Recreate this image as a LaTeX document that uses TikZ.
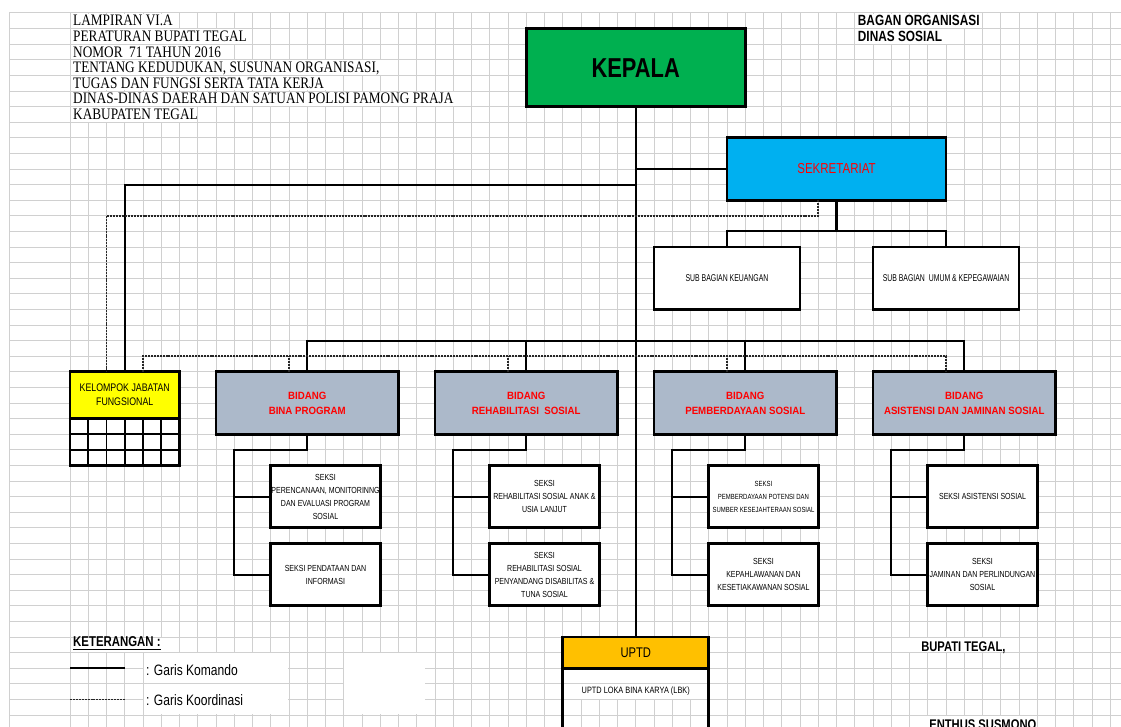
\documentclass[tikz,border=0pt]{standalone}
\usepackage{fontspec}
\setmainfont{Liberation Serif}[FakeStretch=0.83]
\newfontfamily\fa{Liberation Sans}[FakeStretch=0.8]
\newfontfamily\fb{Liberation Sans}[FakeStretch=0.7]
\newfontfamily\fc{Liberation Sans}[FakeStretch=0.92]
\usetikzlibrary{calc}
\definecolor{gridgray}{RGB}{208,208,208}
\definecolor{kepgreen}{RGB}{0,176,80}
\definecolor{sekblue}{RGB}{0,176,240}
\definecolor{bidgray}{RGB}{172,185,202}
\definecolor{kelyellow}{RGB}{255,255,0}
\definecolor{uptdorange}{RGB}{255,192,0}
\definecolor{txtred}{RGB}{255,0,0}
\newcommand\bx[7]{%
  \node[#6, anchor=north west, inner sep=0pt, outer sep=0pt,
    minimum width={(#4-#2)*13.6875pt}, minimum height={(#5-#3)*11.7pt}] (#1) at (#2,#3) {#7};}
\newcommand\wf[4]{\fill[white] (#1+0.04,#2+0.04) rectangle (#3-0.04,#4-0.04);}
\begin{document}
\begin{tikzpicture}[x=13.6875pt,y=-11.7pt,
  gridln/.style={draw=gridgray,line width=0.75pt},
  boxst/.style={draw=black,line width=2.2pt},
  cmd/.style={draw=black,line width=1.6pt},
  crd/.style={draw=black!85,line width=1.3pt,dash pattern=on 1.5pt off 0.7pt},
  hdr/.style={font=\fontsize{12}{14}\selectfont, inner sep=0pt, anchor=base west},
  ttl/.style={font=\fa\bfseries\fontsize{11.1}{13}\selectfont, inner sep=0pt, anchor=base west},
  seksi/.style={boxst, fill=white, align=center, font=\fa\fontsize{6.6}{9.8}\selectfont},
  subbag/.style={boxst, fill=white, align=center, font=\fb\fontsize{7.4}{9}\selectfont},
  bidang/.style={boxst, fill=bidgray, text=txtred, align=center, font=\fc\bfseries\fontsize{7.9}{11.25}\selectfont},
  legtxt/.style={font=\fa\fontsize{11.3}{13}\selectfont, inner sep=0pt, anchor=base west}
]
\useasboundingbox (-3.8356,-0.8333) rectangle (57.589,45.769);
\clip (-3.8356,-0.8333) rectangle (57.589,45.769);
% ---------- grid ----------
\foreach \k in {0,...,57} \draw[gridln] (\k,0) -- (\k,45.9);
\draw[gridln] (-3.342,0) -- (-3.342,45.9);
% single-row text covers
\wf{0}{0}{6}{1} \wf{0}{1}{10}{2} \wf{0}{2}{9}{3} \wf{0}{3}{18}{4}
\wf{0}{4}{15}{5} \wf{0}{5}{22}{6} \wf{0}{6}{7}{7}
\wf{43}{0}{50}{1} \wf{43}{1}{49}{2}
\wf{0}{40}{6}{41}
\wf{45}{40}{52}{41} \wf{46}{45}{53}{46}
\wf{27}{42}{35}{43} \wf{27}{43}{35}{44}
\foreach \j in {0,...,45} \draw[gridln] (-3.342,\j) -- (57.589,\j);
% merged cells
\wf{4}{41}{12}{43} \wf{4}{43}{12}{45} \wf{15}{41}{19.5}{45}
% ---------- header texts ----------
\node[hdr] (h0) at (0.16,0.83) {LAMPIRAN VI.A};
\node[hdr] (h1) at (0.16,1.83) {PERATURAN BUPATI TEGAL};
\node[hdr] (h2) at (0.16,2.83) {NOMOR\ \ 71 TAHUN 2016};
\node[hdr] (h3) at (0.16,3.83) {TENTANG KEDUDUKAN, SUSUNAN ORGANISASI,};
\node[hdr] (h4) at (0.16,4.83) {TUGAS DAN FUNGSI SERTA TATA KERJA};
\node[hdr] (h5) at (0.16,5.83) {DINAS-DINAS DAERAH DAN SATUAN POLISI PAMONG PRAJA};
\node[hdr] (h6) at (0.16,6.83) {KABUPATEN TEGAL};
\node[ttl] (t1) at (43.16,0.83) {BAGAN ORGANISASI};
\node[ttl] (t2) at (43.16,1.83) {DINAS SOSIAL};
% ---------- boxes ----------
\bx{kep}{25}{1}{37}{6}{boxst, fill=kepgreen, font=\fa\bfseries\fontsize{20.5}{24}\selectfont}{KEPALA}
\bx{sek}{36}{8}{48}{12}{boxst, fill=sekblue, text=txtred, font=\fa\fontsize{10.8}{12}\selectfont}{SEKRETARIAT}
\bx{subk}{32}{15}{40}{19}{subbag}{SUB BAGIAN KEUANGAN}
\bx{subu}{44}{15}{52}{19}{subbag}{SUB BAGIAN\ \ UMUM \& KEPEGAWAIAN}
\bx{kel}{0}{23}{6}{26}{boxst, fill=kelyellow, align=center, font=\fa\fontsize{8.25}{10.5}\selectfont}{KELOMPOK JABATAN\\FUNGSIONAL}
\fill[white] (0,26) rectangle (6,29);
\foreach \k in {1,...,5} \draw[line width=1.4pt] (\k,26) -- (\k,29);
\foreach \j in {27,28} \draw[line width=1.4pt] (0,\j) -- (6,\j);
\draw[boxst] (0,26) rectangle (6,29);
\bx{bina}{8}{23}{18}{27}{bidang}{BIDANG\\BINA PROGRAM}
\bx{rehab}{20}{23}{30}{27}{bidang}{BIDANG\\REHABILITASI\ \ SOSIAL}
\bx{pemb}{32}{23}{42}{27}{bidang}{BIDANG\\PEMBERDAYAAN SOSIAL}
\bx{asis}{44}{23}{54}{27}{bidang}{BIDANG\\ASISTENSI DAN JAMINAN SOSIAL}
\bx{bp1}{11}{29}{17}{33}{seksi}{SEKSI\\PERENCANAAN, MONITORINNG\\DAN EVALUASI PROGRAM\\SOSIAL}
\bx{bp2}{11}{34}{17}{38}{seksi}{SEKSI PENDATAAN DAN\\INFORMASI}
\bx{rs1}{23}{29}{29}{33}{seksi}{SEKSI\\REHABILITASI SOSIAL ANAK \&\\USIA LANJUT}
\bx{rs2}{23}{34}{29}{38}{seksi}{SEKSI\\REHABILITASI SOSIAL\\PENYANDANG DISABILITAS \&\\TUNA SOSIAL}
\bx{ps1}{35}{29}{41}{33}{seksi, font=\fa\fontsize{5.6}{9.8}\selectfont}{SEKSI\\PEMBERDAYAAN POTENSI DAN\\SUMBER KESEJAHTERAAN SOSIAL}
\bx{ps2}{35}{34}{41}{38}{seksi}{SEKSI\\KEPAHLAWANAN DAN\\KESETIAKAWANAN SOSIAL}
\bx{as1}{47}{29}{53}{33}{seksi}{SEKSI ASISTENSI SOSIAL}
\bx{as2}{47}{34}{53}{38}{seksi}{SEKSI\\JAMINAN DAN PERLINDUNGAN\\SOSIAL}
\bx{uptd}{27}{40}{35}{42}{boxst, fill=uptdorange, font=\fa\fontsize{10.5}{12}\selectfont}{UPTD}
\bx{lbk}{27}{42}{35}{45}{font=\fa\fontsize{6.9}{8}\selectfont}{UPTD LOKA BINA KARYA (LBK)}
\draw[boxst] (lbk.north west) -- ++(0,5);
\draw[boxst] (lbk.north east) -- ++(0,5);
% ---------- connectors ----------
\draw[cmd] (kep.south) -- (uptd.north);
\draw[cmd] (kep.south |- sek.west) -- (sek.west);
\draw[cmd] (kep.south) ++(0,5) -| (kel.north);
\draw[crd] ([xshift=-13.6875pt]sek.south) -- ++(0,1) -| ([xshift=-13.6875pt]kel.north);
\draw[cmd] (sek.south) -- ++(0,2);
\draw[cmd] (subk.north) -- ++(0,-1) -| (subu.north);
\draw[cmd] (bina.north) -- ++(0,-2) -| (asis.north);
\draw[cmd] (rehab.north) -- ++(0,-2);
\draw[cmd] (pemb.north) -- ++(0,-2);
\draw[crd] ([xshift=13.6875pt]kel.north) -- ++(0,-1) -| ([xshift=-13.6875pt]asis.north);
\foreach \bb in {bina,rehab,pemb} \draw[crd] ([xshift=-13.6875pt]\bb.north) -- ++(0,-1);
\foreach \bb/\qq in {bina/bp,rehab/rs,pemb/ps,asis/as}{
  \draw[cmd] (\bb.south) -- ++(0,1) -| ([xshift=-27.375pt]\qq2.west) -- (\qq2.west);
  \draw[cmd] ([xshift=-27.375pt]\qq1.west) -- (\qq1.west);
}
% ---------- legend ----------
\node[font=\fa\bfseries\fontsize{10.7}{12}\selectfont, inner sep=0pt, anchor=base west] (ket) at (0.16,40.64) {\underline{KETERANGAN :}};
\coordinate (la) at (0,42); \coordinate (lb) at (3,42);
\draw[cmd, line width=1.8pt] (la) -- (lb);
\coordinate (lc) at (0,44); \coordinate (ld) at (3,44);
\draw[crd] (lc) -- (ld);
\node[legtxt] (lk) at (4.16,42.44) {: Garis Komando};
\node[legtxt] (lo) at (4.16,44.42) {: Garis Koordinasi};
% ---------- signature ----------
\node[font=\fa\bfseries\fontsize{10.5}{12}\selectfont, inner sep=0pt, anchor=base west] (bup) at (46.63,40.9) {BUPATI TEGAL,};
\node[font=\fa\bfseries\fontsize{10.5}{12}\selectfont, inner sep=0pt, anchor=base west] (ent) at (47.07,45.96) {ENTHUS SUSMONO};
\end{tikzpicture}
\end{document}
